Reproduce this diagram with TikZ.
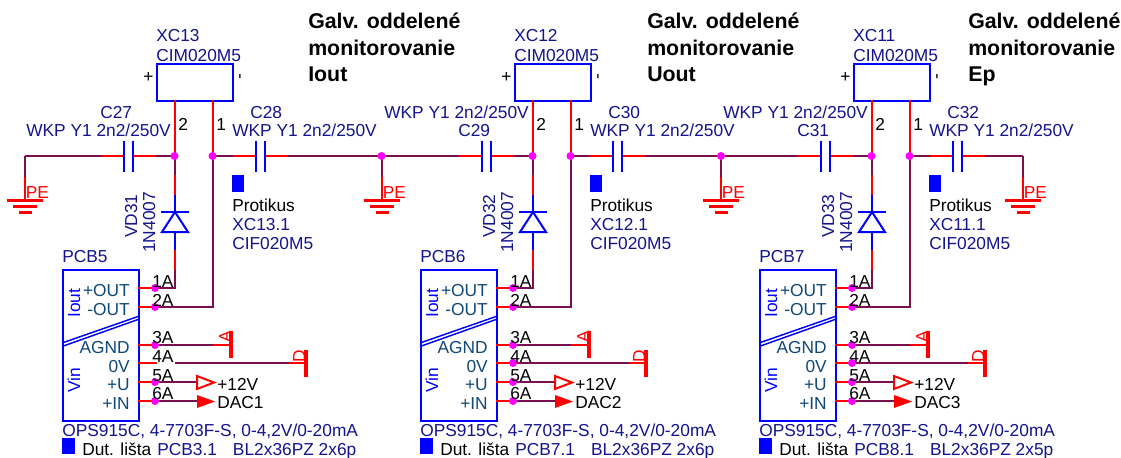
\documentclass[tikz,border=0pt]{standalone}
\usepackage{fontspec}
\setmainfont{Liberation Sans}
\usetikzlibrary{calc}
\definecolor{wirec}{HTML}{7A0F50}
\definecolor{navyc}{HTML}{14148C}
\definecolor{tealc}{HTML}{104878}
\definecolor{redc}{HTML}{FF0000}
\definecolor{bluec}{HTML}{0000FF}
\definecolor{dotc}{HTML}{FF00FF}
\tikzset{
  wireline/.style={draw=wirec,line width=1.5pt},
  redline/.style={draw=redc,line width=1.5pt},
  blueline/.style={draw=bluec,line width=1.5pt},
  thickred/.style={draw=redc,line width=2.8pt},
  partbox/.style={draw=bluec,line width=1.5pt,fill=none},
  junction/.style={circle,fill=dotc,inner sep=0pt,minimum size=6pt},
  lab/.style={anchor=base west,inner sep=0pt,font=\fontsize{13}{13}\selectfont},
  navylab/.style={lab,text=navyc},
  blacklab/.style={lab,text=black},
  redlab/.style={lab,text=redc},
  bluelab/.style={lab,text=bluec},
  heading/.style={lab,font=\fontsize{16}{16}\selectfont\bfseries,text=black},
  intext/.style={anchor=base east,inner sep=0pt,text=tealc,font=\fontsize{13}{13}\selectfont},
  squaremark/.style={fill=bluec,draw=none},
}
\newcommand{\grd}[3]{% name, x, top-joint name
  \coordinate (#1t) at (#2,200);
  \draw[wireline] (#3) -- (#1t);
  \draw[redline] (#2,177) -- (#1t);
  \draw[thickred] (#2-18,200.5) -- (#2+18,200.5);
  \draw[thickred] (#2-12,206.5) -- (#2+12,206.5);
  \draw[thickred] (#2-6.5,212.5) -- (#2+6.5,212.5);
  \node[redlab] (#1x) at (#2+0.5,198) {PE};
}
\newcommand{\capac}[2]{% name, left plate x
  \coordinate (#1a) at (#2,156);
  \coordinate (#1b) at (#2+9,156);
  \coordinate (#1s) at (#2-23,156);
  \coordinate (#1e) at (#2+32,156);
}
\newcommand{\capdraw}[2]{%
  \draw[redline] (#1s) -- (#1a);
  \draw[redline] (#1b) -- (#1e);
  \draw[bluec,line width=1.5pt] (#2,141) -- (#2,172);
  \draw[bluec,line width=1.5pt] (#2+9,141) -- (#2+9,172);
}
\newcommand{\blk}[8]{%
 % #1 prefix #2 dx #3 XC name #4 VD #5 XC.1 #6 PCB #7 DAC #8 bottom; \dbx D-bar x, \gapx start of pin 4 wire
  \node[partbox,minimum width=76*0.75pt,minimum height=37*0.75pt,inner sep=0pt,anchor=north west] (#1xc) at (156+#2,63) {};
  \node[navylab] (#1xcn) at (156+#2,41) {#3};
  \node[navylab] (#1xcm) at (156+#2,61) {CIM020M5};
  \node[blacklab] (#1plus) at (143+#2,82) {+};
  \node[anchor=center,inner sep=0pt,rotate=90,font=\fontsize{13}{13}\selectfont] (#1minus) at (242+#2,77) {-};
  \coordinate (#1t2) at (175+#2,100);
  \coordinate (#1t1) at (213+#2,100);
  \coordinate (#1k2) at (175+#2,156);
  \coordinate (#1k1) at (213+#2,156);
  \node[blacklab] (#1n2) at (178+#2,130) {2};
  \node[blacklab] (#1n1) at (216+#2,130) {1};
  \draw[redline] (#1t2) -- (#1k2);
  \draw[redline] (#1t1) -- (#1k1);
  % diode
  \coordinate (#1dk) at (175+#2,212);
  \coordinate (#1da) at (175+#2,232);
  \draw[wireline] (#1k2) -- (175+#2,175);
  \draw[redline] (175+#2,175) -- (175+#2,195);
  \draw[blueline] (175+#2,195) -- (#1dk);
  \draw[blueline] (161+#2,212) -- (189+#2,212);
  \draw[blueline] (#1dk) -- (162+#2,232) -- (188+#2,232) -- cycle;
  \draw[blueline] (#1da) -- (175+#2,250);
  \draw[redline] (175+#2,250) -- (175+#2,270);
  \node[navylab,rotate=90] (#1vd) at (137+#2,238) {#4};
  \node[navylab,rotate=90] (#1vn) at (155+#2,253) {1N4007};
  % protikus
  \node[squaremark,minimum width=9pt,minimum height=12.5pt,inner sep=0pt,anchor=north west] (#1sq) at (232+#2,175) {};
  \node[blacklab] (#1pr) at (232+#2,211) {Protikus};
  \node[navylab] (#1pr2) at (232+#2,230) {#5};
  \node[navylab] (#1pr3) at (232+#2,249) {CIF020M5};
  % PCB box
  \node[partbox,minimum width=76*0.75pt,minimum height=151*0.75pt,inner sep=0pt,anchor=north west] (#1pcb) at (62+#2,269) {};
  \node[navylab] (#1pcbn) at (62+#2,262) {#6};
  \draw[bluec,line width=1.1pt] (62+#2,343) -- (138+#2,316.5);
  \draw[bluec,line width=1.1pt] (62+#2,346.5) -- (138+#2,319.5);
  \node[lab,text=bluec,rotate=90] (#1io) at (80+#2,318) {Iout};
  \node[lab,text=bluec,rotate=90] (#1vi) at (80+#2,393) {Vin};
  \node[intext] (#1a1) at (130+#2,296) {+OUT};
  \node[intext] (#1a2) at (130+#2,315) {-OUT};
  \node[intext] (#1a3) at (130+#2,353) {AGND};
  \node[intext] (#1a4) at (130+#2,372) {0V};
  \node[intext] (#1a5) at (130+#2,390) {+U};
  \node[intext] (#1a6) at (130+#2,409) {+IN};
  % wires
  \coordinate (#1c1) at (175+#2,288);
  \coordinate (#1c2) at (213+#2,307);
  \coordinate (#1p1) at (138+#2,288);
  \coordinate (#1p2) at (138+#2,307);
  \coordinate (#1p3) at (138+#2,345);
  \coordinate (#1p4) at (138+#2,363);
  \coordinate (#1p5) at (138+#2,382);
  \coordinate (#1p6) at (138+#2,401);
  \coordinate (#1bara) at (231+#2,345);
  \coordinate (#1bard) at (\dbx+#2,363);
  \coordinate (#1gap) at (\gapx+#2,363);
  \coordinate (#1tipu) at (197+#2,382);
  \coordinate (#1tipi) at (197+#2,401);
  \draw[wireline] (175+#2,270) -- (#1c1) -- (#1p1);
  \draw[wireline] (#1k1) -- (#1c2) -- (#1p2);
  \draw[wireline] (#1p3) -- (#1bara);
  \draw[wireline] (#1gap) -- (#1bard);
  \draw[wireline] (#1p5) -- (#1tipu);
  \draw[wireline] (#1p6) -- (#1tipi);
  \foreach \yy in {288,307,345,363,382,401}{\draw[redline] (138+#2,\yy) -- (157+#2,\yy);}
  \draw[redline] (213+#2,345) -- (#1bara);
  \draw[redline] (\dbx-17+#2,363) -- (#1bard);
  \draw[draw=redc,line width=2.4pt] (231+#2,331) -- (231+#2,358);
  \node[redlab,rotate=90] (#1ga) at (231+#2,343) {A};
  \draw[draw=redc,line width=2.4pt] (\dbx+#2,350) -- (\dbx+#2,377);
  \node[redlab,rotate=90] (#1gd) at (\dbx-1+#2,363) {D};
  \draw[redline] (197+#2,376) -- (214+#2,382.5) -- (197+#2,389) -- cycle;
  \fill[redc] (197+#2,395) -- (215+#2,401.5) -- (197+#2,408) -- cycle;
  \node[blacklab] (#1v12) at (217+#2,390) {+12V};
  \node[blacklab] (#1dac) at (217+#2,408) {#7};
  \node[navylab] (#1ops) at (62+#2,436) {OPS915C, 4-7703F-S, 0-4,2V/0-20mA};
  \node[squaremark,minimum width=9.5pt,minimum height=12pt,inner sep=0pt,anchor=north west] (#1sq2) at (62+#2,438) {};
  \node[blacklab] (#1dut) at (82+#2,455) {Dut. lišta};
  \node[navylab] (#1bot) at (157+#2,455) {#8};
}
\newcommand{\pinlabs}[2]{% prefix dx
 \foreach \t/\yy in {1A/287,2A/306,3A/343,4A/362,5A/381,6A/399}{\node[blacklab] (#1pl\t) at (152+#2,\yy) {\t};}
}
\begin{document}
\begin{tikzpicture}[x=0.75pt,y=-0.75pt]
\useasboundingbox (0,0) rectangle (1121,457);
\fill[white] (0,0) rectangle (1121,457);
% headings
\foreach \xx/\tt/\nm in {308/Iout/a,647/Uout/b,968/Ep/c}{
  \node[heading] (h1\nm) at (\xx,28) {Galv. oddelené};
  \node[heading] (h2\nm) at (\xx,55) {monitorovanie};
  \node[heading] (h3\nm) at (\xx,81) {\tt};
}
\coordinate (g1) at (25,156);
\coordinate (g2) at (382,156);
\coordinate (g3) at (721,156);
\coordinate (g4) at (1023,156);
\capac{ka}{124}
\capac{kb}{256}
\capac{kc}{482}
\capac{kd}{613}
\capac{ke}{821}
\capac{kf}{953}
\def\dbx{306}\def\gapx{175}
\blk{a}{0}{XC13}{VD31}{XC13.1}{PCB5}{DAC1}{PCB3.1\hspace{12pt}BL2x36PZ 2x6p}
\def\dbx{288}\def\gapx{157}
\blk{b}{358}{XC12}{VD32}{XC12.1}{PCB6}{DAC2}{PCB7.1\hspace{12pt}BL2x36PZ 2x6p}
\blk{c}{697}{XC11}{VD33}{XC11.1}{PCB7}{DAC3}{PCB8.1\hspace{12pt}BL2x36PZ 2x5p}
% buses
\draw[wireline] (g1) -- (kaa);
\draw[wireline] (kab) -- (ak2);
\draw[wireline] (ak1) -- (kba);
\draw[wireline] (kbb) -- (g2) -- (kca);
\draw[wireline] (kcb) -- (bk2);
\draw[wireline] (bk1) -- (kda);
\draw[wireline] (kdb) -- (g3) -- (kea);
\draw[wireline] (keb) -- (ck2);
\draw[wireline] (ck1) -- (kfa);
\draw[wireline] (kfb) -- (g4);
\capdraw{ka}{124}
\capdraw{kb}{256}
\capdraw{kc}{482}
\capdraw{kd}{613}
\capdraw{ke}{821}
\capdraw{kf}{953}
\grd{ga}{25}{g1}
\grd{gb}{382}{g2}
\grd{gc}{721}{g3}
\grd{gd}{1023}{g4}
% junctions
\node[junction] (jg2) at (381.5,156) {};
\node[junction] (jg3) at (721,156) {};
\node[junction] (ja2) at (174.5,156) {};
\node[junction] (ja1) at (212.5,156) {};
\node[junction] (jb2) at (532.5,156) {};
\node[junction] (jb1) at (570.5,156) {};
\node[junction] (jc2) at (871.5,156) {};
\node[junction] (jc1) at (909.5,156) {};
% cap labels
\node[navylab] (l27) at (100,118) {C27};
\node[navylab] (w27) at (26,136) {WKP Y1 2n2/250V};
\node[navylab] (l28) at (250,118) {C28};
\node[navylab] (w28) at (232,136) {WKP Y1 2n2/250V};
\node[navylab] (w29) at (384,118) {WKP Y1 2n2/250V};
\node[navylab] (l29) at (458,136) {C29};
\node[navylab] (l30) at (608,118) {C30};
\node[navylab] (w30) at (590,136) {WKP Y1 2n2/250V};
\node[navylab] (w31) at (723,118) {WKP Y1 2n2/250V};
\node[navylab] (l31) at (797,136) {C31};
\node[navylab] (l32) at (947,118) {C32};
\node[navylab] (w32) at (929,136) {WKP Y1 2n2/250V};
% pin dots
\foreach \dx/\nm in {0/a,358/b,697/c}{
 \foreach \yy in {288,307,345,382,401}{
  \node[junction] (d\nm\yy) at (155+\dx,\yy) {};
 }
}
\node[junction] (db363) at (513,363) {};
\node[junction] (dc363) at (852,363) {};
\pinlabs{a}{0}
\pinlabs{b}{358}
\pinlabs{c}{697}
\end{tikzpicture}
\end{document}
